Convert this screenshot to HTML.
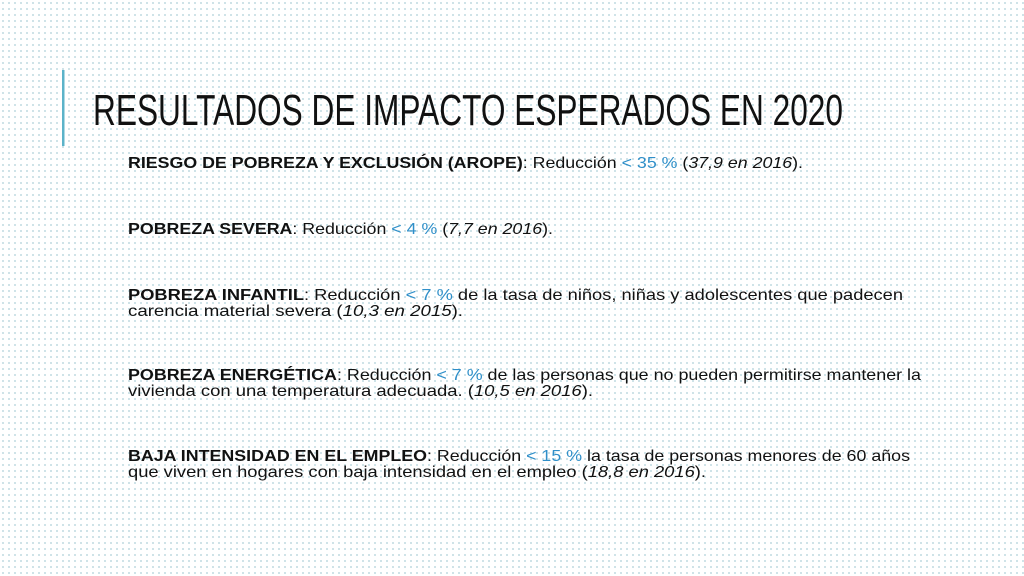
<!DOCTYPE html>
<html><head><meta charset="utf-8"><style>
html,body{margin:0;padding:0;background:#fff}
svg{display:block}
text{font-family:"Liberation Sans",sans-serif;fill:#111}
.b{font-weight:bold}
.h{fill:#2f8fc9}
.i{font-style:italic}
</style></head><body>
<svg width="1024" height="576" viewBox="0 0 1024 576">
<defs><pattern id="dots" width="6" height="6" patternUnits="userSpaceOnUse"><rect x="2" y="2" width="2" height="2" fill="#cfe3e8"/></pattern></defs>
<rect width="1024" height="576" fill="#fff"/>
<rect width="1024" height="576" fill="url(#dots)"/>
<rect x="62" y="70" width="2.5" height="76" fill="#5bb3c9"/>
<text x="93" y="125" font-size="44" textLength="750" lengthAdjust="spacingAndGlyphs">RESULTADOS DE IMPACTO ESPERADOS EN 2020</text>
<g font-size="16">
<text x="128" y="168" textLength="675" lengthAdjust="spacingAndGlyphs"><tspan class="b">RIESGO DE POBREZA Y EXCLUSIÓN (AROPE)</tspan>: Reducción <tspan class="h">&lt; 35 %</tspan> (<tspan class="i">37,9 en 2016</tspan>).</text>
<text x="128" y="234" textLength="425" lengthAdjust="spacingAndGlyphs"><tspan class="b">POBREZA SEVERA</tspan>: Reducción <tspan class="h">&lt; 4 %</tspan> (<tspan class="i">7,7 en 2016</tspan>).</text>
<text x="128" y="300" textLength="775" lengthAdjust="spacingAndGlyphs"><tspan class="b">POBREZA INFANTIL</tspan>: Reducción <tspan class="h">&lt; 7 %</tspan> de la tasa de niños, niñas y adolescentes que padecen</text>
<text x="128" y="316" textLength="335" lengthAdjust="spacingAndGlyphs">carencia material severa (<tspan class="i">10,3 en 2015</tspan>).</text>
<text x="128" y="380" textLength="793" lengthAdjust="spacingAndGlyphs"><tspan class="b">POBREZA ENERGÉTICA</tspan>: Reducción <tspan class="h">&lt; 7 %</tspan> de las personas que no pueden permitirse mantener la</text>
<text x="128" y="396" textLength="465" lengthAdjust="spacingAndGlyphs">vivienda con una temperatura adecuada. (<tspan class="i">10,5 en 2016</tspan>).</text>
<text x="128" y="461" textLength="782" lengthAdjust="spacingAndGlyphs"><tspan class="b">BAJA INTENSIDAD EN EL EMPLEO</tspan>: Reducción <tspan class="h">&lt; 15 %</tspan> la tasa de personas menores de 60 años</text>
<text x="128" y="477" textLength="578" lengthAdjust="spacingAndGlyphs">que viven en hogares con baja intensidad en el empleo (<tspan class="i">18,8 en 2016</tspan>).</text>
</g>
</svg>
</body></html>
